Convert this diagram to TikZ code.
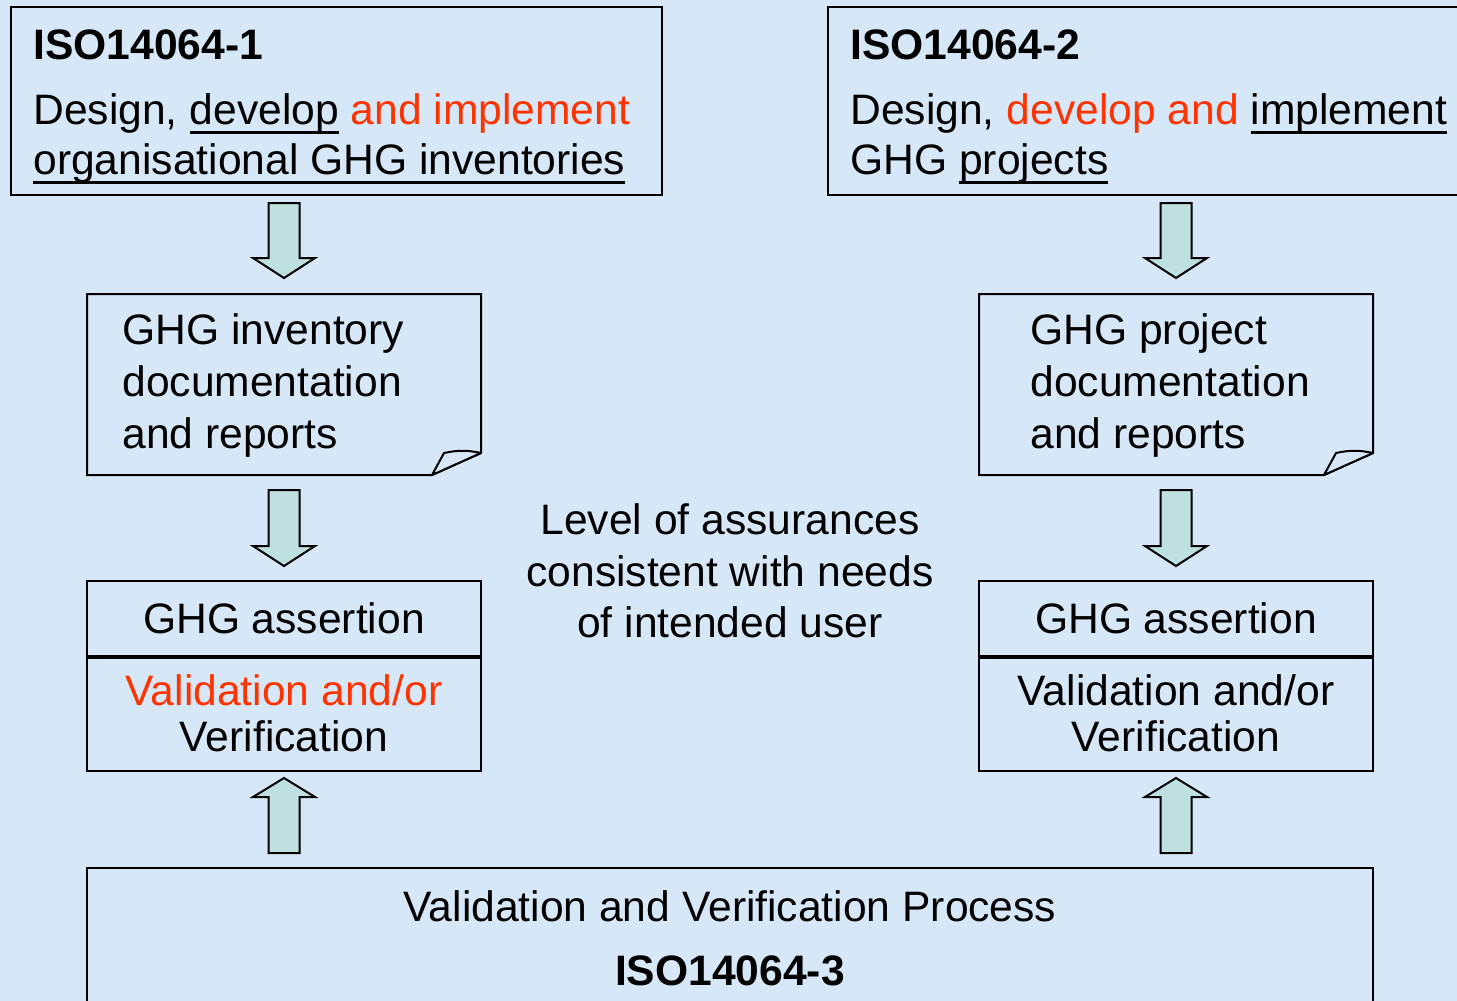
\documentclass[tikz,border=0pt]{standalone}
\usepackage{fontspec}
\setmainfont{Liberation Sans}
\definecolor{bg}{HTML}{D6E8F7}
\definecolor{arrowfill}{HTML}{BEE0E0}
\definecolor{hl}{HTML}{FF3300}
\newcommand\myul[1]{\setbox0\hbox{#1}\rlap{\rule[-5pt]{\wd0}{1.4pt}}\box0\relax}
\begin{document}
\begin{tikzpicture}[x=0.5pt,y=-0.5pt,
  box/.style={draw,line width=1pt,inner sep=0pt,rectangle},
  txt/.style={inner sep=0pt,font=\fontsize{21.3}{25}\selectfont},
  btxt/.style={inner sep=0pt,font=\fontsize{21.3}{25}\selectfont\bfseries},
  barrow/.style={draw,line width=1pt,fill=arrowfill,line join=miter}]
\fill[bg] (0,0) rectangle (1457,1001);
\useasboundingbox (0,0) rectangle (1457,1001);
\clip (0,0) rectangle (1457,1001);

% top boxes
\node[box,minimum width=325.5pt,minimum height=94pt] (b1) at (336.5,101) {};
\node[box,minimum width=321pt,minimum height=94pt] (b2) at (1149,101) {};
\node[btxt,anchor=base west] (t1a) at (33,59) {ISO14064-1};
\node[txt,anchor=base west] (t1b) at (33,124) {Design, \myul{develop} \textcolor{hl}{and implement}};
\node[txt,anchor=base west] (t1c) at (33,174) {\myul{organisational GHG inventories}};
\node[btxt,anchor=base west] (t2a) at (850,59) {ISO14064-2};
\node[txt,anchor=base west] (t2b) at (850,124) {Design, \textcolor{hl}{develop and} \myul{implement}};
\node[txt,anchor=base west] (t2c) at (850,174) {GHG \myul{projects}};

% document shapes
\foreach \cx/\nm in {284/d1,1176/d2}{
  \coordinate (\nm) at (\cx,384.5);
  \draw[line width=1pt] (\cx-197,294) -- (\cx+197,294) -- (\cx+197,453) -- (\cx+148,475) -- (\cx-197,475) -- cycle;
  \draw[line width=1pt,fill=bg,line join=bevel] (\cx+148,475) -- (\cx+160,453) to[bend left=12] (\cx+197,453) -- cycle;
}
\node[txt,anchor=base west] (d1a) at (122,344) {GHG inventory};
\node[txt,anchor=base west] (d1b) at (122,396) {documentation};
\node[txt,anchor=base west] (d1c) at (122,448) {and reports};
\node[txt,anchor=base west] (d2a) at (1030,344) {GHG project};
\node[txt,anchor=base west] (d2b) at (1030,396) {documentation};
\node[txt,anchor=base west] (d2c) at (1030,448) {and reports};

% assertion boxes
\node[box,minimum width=197pt,minimum height=37.5pt] (a1) at (284,618.5) {};
\node[box,minimum width=197pt,minimum height=57.5pt] (v1) at (284,713.5) {};
\node[box,minimum width=197pt,minimum height=37.5pt] (a2) at (1176,618.5) {};
\node[box,minimum width=197pt,minimum height=57.5pt] (v2) at (1176,713.5) {};
\draw[line width=2pt] (a1.south west) -- (a1.south east);
\draw[line width=2pt] (a2.south west) -- (a2.south east);
\node[txt,anchor=base] (a1t) at (284,633) {GHG assertion};
\node[txt,anchor=base] (v1a) at (284,705) {\textcolor{hl}{Validation and/or}};
\node[txt,anchor=base] (v1b) at (284,751) {Verification};
\node[txt,anchor=base] (a2t) at (1176,633) {GHG assertion};
\node[txt,anchor=base] (v2a) at (1176,705) {Validation and/or};
\node[txt,anchor=base] (v2b) at (1176,751) {Verification};

% middle text
\node[txt,anchor=base] (m1) at (730,534) {Level of assurances};
\node[txt,anchor=base] (m2) at (730,586) {consistent with needs};
\node[txt,anchor=base] (m3) at (730,637) {of intended user};

% bottom box
\node[box,minimum width=643pt,minimum height=71pt] (p) at (730,939) {};
\node[txt,anchor=base] (p1) at (730,921) {Validation and Verification Process};
\node[btxt,anchor=base] (p2) at (730,985) {ISO14064-3};

% block arrows
\foreach \cx in {284,1176}{
  \foreach \ya/\yb/\yc in {203/258/278, 490/546/566}{
    \draw[barrow] (\cx-15.5,\ya) -- (\cx+15.5,\ya) -- (\cx+15.5,\yb) -- (\cx+31,\yb) -- (\cx,\yc) -- (\cx-31,\yb) -- (\cx-15.5,\yb) -- cycle;
  }
  \draw[barrow] (\cx-15.5,853) -- (\cx+15.5,853) -- (\cx+15.5,797) -- (\cx+31,797) -- (\cx,778) -- (\cx-31,797) -- (\cx-15.5,797) -- cycle;
}
\end{tikzpicture}
\end{document}
